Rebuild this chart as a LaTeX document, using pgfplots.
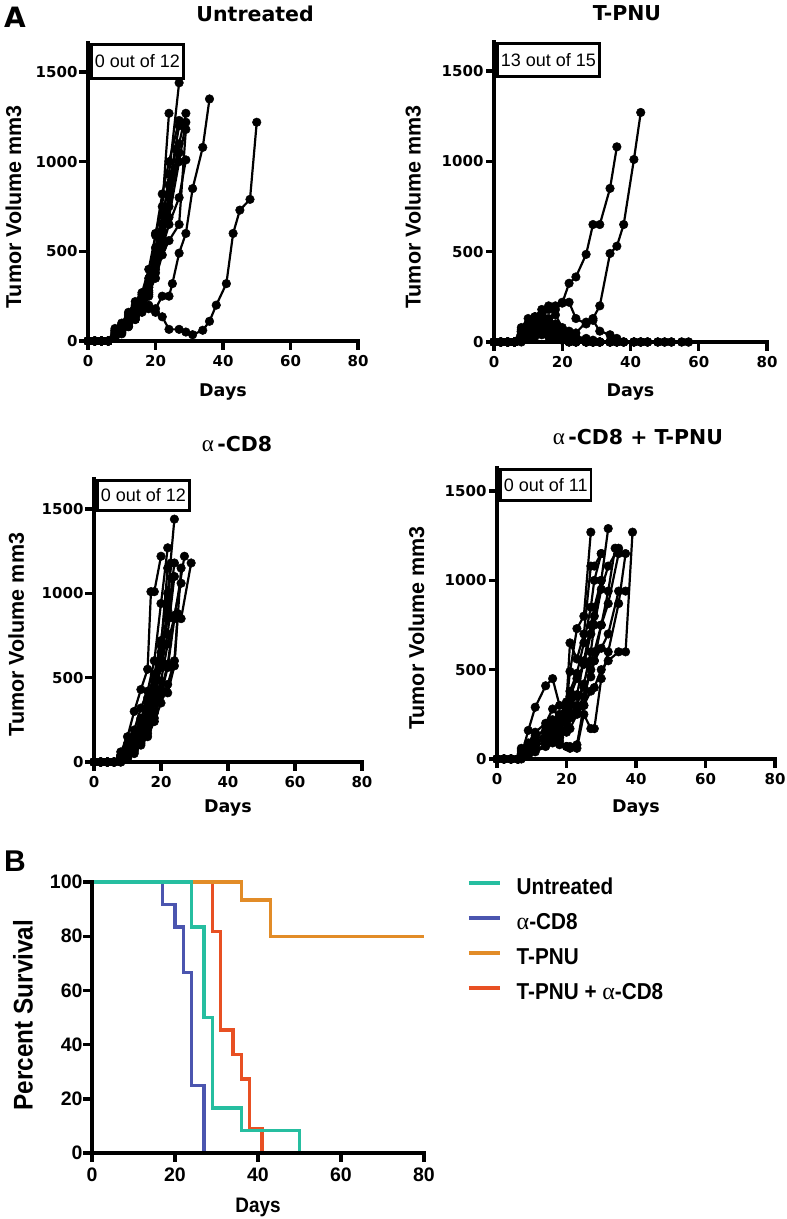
\documentclass[border=0pt]{standalone}
\usepackage{fontspec}
\setmainfont{Liberation Sans}
\newfontfamily\dvb{DejaVu Sans}
\newfontfamily\lsn{Liberation Sans}[FakeStretch=0.9]
\newfontfamily\lserif{Liberation Serif}
\usepackage{pgfplots}
\pgfplotsset{compat=1.18}
\definecolor{cteal}{RGB}{38,190,160}
\definecolor{cblue}{RGB}{75,85,175}
\definecolor{corange}{RGB}{226,140,40}
\definecolor{cred}{RGB}{232,80,35}
\newcommand\tickfontA{\dvb\bfseries\fontsize{15bp}{16bp}\selectfont}
\newcommand\titlefont{\dvb\bfseries\fontsize{20.5bp}{24bp}\selectfont}
\newcommand\daysfont{\dvb\bfseries\fontsize{17.5bp}{20bp}\selectfont}
\newcommand\ylabfont{\bfseries\fontsize{21.5bp}{24bp}\selectfont}
\newcommand\boxfont{\fontsize{18bp}{20bp}\selectfont}
\newcommand\alphaT{{\lserif\mdseries\fontsize{23bp}{24bp}\selectfont α}}
\newcommand\alphaL{{\lserif\mdseries\fontsize{24bp}{24bp}\selectfont α}}
\newcommand\tickfontB{\bfseries\fontsize{19.5bp}{20bp}\selectfont}
\newcommand\legfont{\lsn\bfseries\fontsize{23bp}{24bp}\selectfont}
\tikzset{outbox/.style={draw, line width=2.7bp, anchor=north west, inner xsep=3.5bp, font=\boxfont, text height=13bp, text depth=0bp}}
\newcommand\frameA{%
  \draw[line width=3.4bp, line cap=rect] (rel axis cs:0,1) -- (rel axis cs:0,0) -- (rel axis cs:1,0);
  \pgfplotsinvokeforeach{0,20,40,60,80}{\draw[line width=3.4bp] (axis cs:##1,0) -- ++(0bp,-8.5bp);}
  \pgfplotsinvokeforeach{0,500,1000,1500}{\draw[line width=3.4bp] (axis cs:0,##1) -- ++(-8.5bp,0bp);}
}
\pgfplotsset{
  mouse/.style={black, line width=2.2bp, mark=*, mark size=4.3bp, mark options={solid, fill=black, line width=0.5bp}},
  thickaxes/.style={
    major tick length=6bp, tick align=outside,
  },
  panelA/.style={
    anchor=south west, scale only axis,
    axis x line*=bottom, axis y line*=left,
    thickaxes,
    xmin=0, xmax=80, ymin=0,
    xtick={0,20,40,60,80}, ytick={0,500,1000,1500},
    tick label style={font=\tickfontA},
    xticklabel style={yshift=-5bp},
    yticklabel style={xshift=-1bp},
    /pgf/number format/assume math mode=true,
    /pgf/number format/1000 sep={},
    xlabel={Days}, xlabel style={font=\daysfont, anchor=center},
    ylabel={Tumor Volume mm3}, ylabel style={font=\ylabfont, anchor=center},
    title style={font=\titlefont, anchor=center},
    clip=false,
  },
}
\begin{document}
\begin{tikzpicture}
\path[use as bounding box] (0bp,0bp) rectangle (787bp,-1219bp);
\node[font=\dvb\bfseries\fontsize{28bp}{30bp}\selectfont] at (15bp,-17bp) {A};
\node[font=\bfseries\fontsize{30bp}{30bp}\selectfont] at (15bp,-861bp) {B};

% ---------- Untreated ----------
\begin{axis}[panelA, at={(88bp,-341bp)}, width=270bp, height=298bp, ymax=1662,
  title={Untreated}, title style={at={(axis description cs:0.619,1.079)}},
  xlabel style={at={(axis description cs:0.5,-0.171)}},
  ylabel style={at={(axis description cs:-0.276,0.45)}}]
\frameA
\addplot[mouse] coordinates {(0,0)(2,0)(4,0)(6,0)(8,50)(10,80)(12,120)(14,180)(16,250)(18,300)(20,600)(22,750)(24,1270)};
\addplot[mouse] coordinates {(0,0)(2,0)(4,0)(6,0)(8,30)(10,70)(12,110)(14,160)(16,210)(18,330)(20,480)(22,650)(24,930)(27,1440)};
\addplot[mouse] coordinates {(0,0)(2,0)(4,0)(6,0)(8,60)(10,90)(12,150)(14,200)(16,260)(18,350)(20,520)(22,700)(24,870)(27,1200)};
\addplot[mouse] coordinates {(0,0)(2,0)(4,0)(6,0)(8,40)(10,60)(12,100)(14,140)(16,200)(18,280)(20,420)(22,560)(24,800)(27,1100)(29,1270)};
\addplot[mouse] coordinates {(0,0)(2,0)(4,0)(6,0)(8,70)(10,90)(12,130)(14,170)(16,230)(18,300)(20,440)(22,600)(24,690)(27,1000)(29,1220)};
\addplot[mouse] coordinates {(0,0)(2,0)(4,0)(6,0)(8,20)(10,40)(12,80)(14,120)(16,170)(18,250)(20,380)(22,520)(24,650)(27,800)(29,1010)};
\addplot[mouse] coordinates {(0,0)(2,0)(4,0)(6,0)(8,30)(10,60)(12,100)(14,150)(16,200)(18,270)(20,350)(22,480)(24,560)(27,650)(29,1180)};
\addplot[mouse] coordinates {(0,0)(2,0)(4,0)(6,0)(8,20)(10,50)(12,80)(14,120)(16,160)(18,200)(20,180)(22,250)(24,250)(25,320)(27,490)(29,600)(31,850)(34,1080)(36,1350)};
\addplot[mouse] coordinates {(0,0)(2,0)(4,0)(6,0)(8,40)(10,70)(12,110)(14,140)(16,170)(18,180)(20,160)(22,135)(24,65)(27,65)(29,50)(31,35)(34,60)(36,110)(38,200)(41,320)(43,600)(45,730)(48,790)(50,1220)};
\addplot[mouse] coordinates {(0,0)(2,0)(4,0)(6,0)(8,60)(10,100)(12,160)(14,220)(16,270)(18,400)(20,590)(22,820)(24,1000)(27,1230)};
\addplot[mouse] coordinates {(0,0)(2,0)(4,0)(6,0)(8,30)(10,50)(12,90)(14,130)(16,190)(18,260)(20,400)(22,530)(24,750)(27,1050)};
\addplot[mouse] coordinates {(0,0)(2,0)(4,0)(6,0)(8,50)(10,80)(12,140)(14,190)(16,240)(18,320)(20,460)(22,620)(24,820)(26,1070)};
\node[outbox, xshift=2bp, minimum height=34bp] at (rel axis cs:0,1) {0 out of 12};
\end{axis}

% ---------- T-PNU ----------
\begin{axis}[panelA, at={(494bp,-342bp)}, width=273bp, height=300bp, ymax=1660,
  title={T-PNU}, title style={at={(axis description cs:0.487,1.075)}},
  xlabel style={at={(axis description cs:0.5,-0.167)}},
  ylabel style={at={(axis description cs:-0.297,0.45)}}]
\frameA
\addplot[mouse] coordinates {(0,0)(2,0)(4,0)(6,0)(8,60)(10,100)(12,130)(14,150)(16,200)(18,200)(20,215)(22,325)(24,360)(27,485)(29,650)(31,650)(34,850)(36,1080)};
\addplot[mouse] coordinates {(0,0)(2,0)(4,0)(6,0)(8,40)(10,90)(12,120)(14,140)(16,180)(18,180)(20,220)(22,220)(24,130)(27,100)(29,130)(31,200)(34,490)(36,530)(38,650)(41,1010)(43,1270)};
\addplot[mouse] coordinates {(0,0)(2,0)(4,0)(6,0)(8,80)(10,130)(12,140)(14,160)(16,190)(18,150)(20,80)(22,50)(24,20)(27,10)(29,0)(31,0)(34,0)(36,0)(38,0)(41,0)(43,0)(45,0)(48,0)(50,0)(52,0)(55,0)(57,0)};
\addplot[mouse] coordinates {(0,0)(2,0)(4,0)(6,0)(8,40)(10,100)(12,120)(14,110)(16,100)(18,80)(20,60)(22,40)(24,20)(27,10)(29,0)(31,0)(34,0)(36,0)(38,0)(41,0)(43,0)(45,0)};
\addplot[mouse] coordinates {(0,0)(2,0)(4,0)(6,0)(8,60)(10,70)(12,90)(14,140)(16,130)(18,100)(20,70)(22,60)(24,50)(27,110)(29,120)(31,60)(34,40)(36,20)(38,0)(41,0)(43,0)(45,0)(48,0)(50,0)(52,0)};
\addplot[mouse] coordinates {(0,0)(2,0)(4,0)(6,0)(8,30)(10,50)(12,80)(14,100)(16,120)(18,60)(20,30)(22,10)(24,0)(27,0)(29,0)(31,0)(34,0)};
\addplot[mouse] coordinates {(0,0)(2,0)(4,0)(6,0)(8,70)(10,80)(12,100)(14,90)(16,70)(18,40)(20,20)(22,10)(24,0)(27,0)(29,0)(31,0)(34,0)(36,0)(38,0)(41,0)(43,0)(45,0)(48,0)(50,0)(52,0)(55,0)(57,0)};
\addplot[mouse] coordinates {(0,0)(2,0)(4,0)(6,0)(8,20)(10,40)(12,60)(14,70)(16,50)(18,30)(20,20)(22,0)(24,0)(27,0)(29,0)(31,0)};
\addplot[mouse] coordinates {(0,0)(2,0)(4,0)(6,0)(8,50)(10,60)(12,110)(14,130)(16,80)(18,40)(20,20)(22,10)(24,5)(27,0)(29,0)(31,0)(34,0)(36,0)(38,0)(41,0)(43,0)};
\addplot[mouse] coordinates {(0,0)(2,0)(4,0)(6,0)(8,10)(10,30)(12,40)(14,60)(16,40)(18,20)(20,10)(22,0)(24,0)(27,0)};
\addplot[mouse] coordinates {(0,0)(2,0)(4,0)(6,0)(8,30)(10,70)(12,100)(14,120)(16,110)(18,90)(20,70)(22,50)(24,30)(27,20)(29,10)(31,0)(34,0)(36,0)};
\addplot[mouse] coordinates {(0,0)(2,0)(4,0)(6,0)(8,0)(10,20)(12,30)(14,40)(16,30)(18,20)(20,10)(22,0)(24,0)};
\addplot[mouse] coordinates {(0,0)(2,0)(4,0)(6,0)(8,60)(10,90)(12,140)(14,180)(16,120)(18,70)(20,40)(22,20)(24,10)(27,0)(29,0)(31,0)};
\addplot[mouse] coordinates {(0,0)(2,0)(4,0)(6,0)(8,20)(10,50)(12,70)(14,80)(16,60)(18,60)(20,50)(22,30)(24,20)(27,10)(29,0)(31,0)(34,0)};
\addplot[mouse] coordinates {(0,0)(2,0)(4,0)(6,0)(8,40)(10,60)(12,80)(14,100)(16,90)(18,70)(20,40)(22,20)(24,10)(27,0)(29,0)};
\node[outbox, xshift=2bp, minimum height=33bp] at (rel axis cs:0,1) {13 out of 15};
\end{axis}

% ---------- alpha-CD8 ----------
\begin{axis}[panelA, at={(94bp,-762bp)}, width=268bp, height=283bp, ymax=1678,
  title={\alphaT\,-CD8}, title style={at={(axis description cs:0.534,1.102)}},
  xlabel style={at={(axis description cs:0.5,-0.163)}},
  ylabel style={at={(axis description cs:-0.29,0.45)}}]
\frameA
\addplot[mouse] coordinates {(0,0)(2,0)(4,0)(6,0)(8,60)(10,150)(12,300)(14,430)(16,550)(17,1010)(18,1010)(20,1220)};
\addplot[mouse] coordinates {(0,0)(2,0)(4,0)(6,0)(8,40)(10,110)(12,190)(14,320)(16,420)(18,600)(20,940)(22,1270)};
\addplot[mouse] coordinates {(0,0)(2,0)(4,0)(6,0)(8,30)(10,80)(12,150)(14,250)(16,380)(18,520)(20,720)(22,1000)(24,1440)};
\addplot[mouse] coordinates {(0,0)(2,0)(4,0)(6,0)(8,20)(10,60)(12,120)(14,200)(16,300)(18,420)(20,600)(22,850)(24,1180)};
\addplot[mouse] coordinates {(0,0)(2,0)(4,0)(6,0)(8,10)(10,40)(12,90)(14,150)(16,230)(18,350)(20,480)(22,700)(24,860)(27,1220)};
\addplot[mouse] coordinates {(0,0)(2,0)(4,0)(6,0)(8,0)(10,30)(12,60)(14,110)(16,170)(18,260)(20,400)(22,560)(24,850)(26,850)(29,1180)};
\addplot[mouse] coordinates {(0,0)(2,0)(4,0)(6,0)(8,20)(10,50)(12,110)(14,180)(16,270)(18,380)(20,560)(22,760)(24,1100)};
\addplot[mouse] coordinates {(0,0)(2,0)(4,0)(6,0)(8,10)(10,40)(12,80)(14,130)(16,200)(18,300)(20,430)(22,410)(24,570)(26,1150)};
\addplot[mouse] coordinates {(0,0)(2,0)(4,0)(6,0)(8,40)(10,90)(12,160)(14,260)(16,350)(18,480)(20,690)(22,1150)};
\addplot[mouse] coordinates {(0,0)(2,0)(4,0)(6,0)(8,0)(10,20)(12,50)(14,100)(16,150)(18,240)(20,350)(22,460)(24,600)(25,880)};
\addplot[mouse] coordinates {(0,0)(2,0)(4,0)(6,0)(8,30)(10,70)(12,140)(14,220)(16,320)(18,450)(20,650)(22,900)(23,1180)};
\addplot[mouse] coordinates {(0,0)(2,0)(4,0)(6,0)(8,10)(10,30)(12,70)(14,120)(16,190)(18,290)(20,420)(22,580)(24,870)(26,1060)};
\node[outbox, xshift=2bp, minimum height=30bp] at (rel axis cs:0,1) {0 out of 12};
\end{axis}

% ---------- alpha-CD8 + T-PNU ----------
\begin{axis}[panelA, at={(497bp,-759bp)}, width=278bp, height=291bp, ymax=1629,
  title={\alphaT\,-CD8 + T-PNU}, title style={at={(axis description cs:0.507,1.086)}},
  xlabel style={at={(axis description cs:0.5,-0.168)}},
  ylabel style={at={(axis description cs:-0.29,0.45)}}]
\frameA
\addplot[mouse] coordinates {(0,0)(2,0)(4,0)(6,0)(7,20)(9,160)(11,290)(14,410)(16,450)(18,300)(20,310)(21,490)(23,730)(25,800)(27,1270)};
\addplot[mouse] coordinates {(0,0)(2,0)(4,0)(6,0)(7,60)(9,90)(11,150)(14,200)(16,280)(18,230)(20,320)(21,650)(23,560)(25,700)(27,1080)(28,1080)(30,1150)};
\addplot[mouse] coordinates {(0,0)(2,0)(4,0)(6,0)(7,50)(9,70)(11,110)(14,180)(16,220)(18,150)(20,250)(21,320)(23,360)(25,550)(27,750)(28,850)(30,1000)(32,1290)};
\addplot[mouse] coordinates {(0,0)(2,0)(4,0)(6,0)(7,30)(9,60)(11,80)(14,120)(16,150)(18,100)(20,70)(21,70)(23,80)(25,300)(27,550)(28,600)(30,750)(32,940)(34,1180)};
\addplot[mouse] coordinates {(0,0)(2,0)(4,0)(6,0)(7,20)(9,40)(11,70)(14,100)(16,130)(18,80)(20,70)(21,60)(23,60)(25,250)(27,170)(28,170)(30,450)(32,600)(35,870)(37,1150)};
\addplot[mouse] coordinates {(0,0)(2,0)(4,0)(6,0)(7,10)(9,30)(11,50)(14,80)(16,100)(18,180)(20,160)(21,170)(23,250)(25,300)(27,380)(28,400)(30,500)(32,550)(35,600)(37,600)(39,1270)};
\addplot[mouse] coordinates {(0,0)(2,0)(4,0)(6,0)(7,40)(9,80)(11,130)(14,160)(16,200)(18,120)(20,150)(21,230)(23,300)(25,420)(27,600)(28,750)(30,950)(32,1080)(35,1180)};
\addplot[mouse] coordinates {(0,0)(2,0)(4,0)(6,0)(7,0)(9,20)(11,40)(14,70)(16,90)(18,120)(20,200)(21,260)(23,280)(25,350)(27,500)(28,550)(30,620)(32,700)(35,940)(37,940)};
\addplot[mouse] coordinates {(0,0)(2,0)(4,0)(6,0)(7,30)(9,50)(11,100)(14,150)(16,180)(18,250)(20,300)(21,380)(23,480)(25,650)(27,850)(28,1000)(30,1150)};
\addplot[mouse] coordinates {(0,0)(2,0)(4,0)(6,0)(7,10)(9,30)(11,60)(14,110)(16,140)(18,200)(20,230)(21,300)(23,350)(25,400)(27,460)(28,550)(30,750)(32,870)(35,1150)};
\addplot[mouse] coordinates {(0,0)(2,0)(4,0)(6,0)(7,20)(9,50)(11,90)(14,130)(16,170)(18,240)(20,280)(21,350)(23,450)(25,530)(27,700)(28,800)(30,1000)};
\node[outbox, xshift=2bp, minimum height=31bp] at (rel axis cs:0,1) {0 out of 11};
\end{axis}

% ---------- Survival ----------
\begin{axis}[anchor=south west, at={(92bp,-1153bp)}, width=332bp, height=271bp, scale only axis,
  axis x line*=bottom, axis y line*=left,
  thickaxes,
  xmin=0, xmax=80, ymin=0, ymax=100,
  xtick={0,20,40,60,80}, ytick={0,20,40,60,80,100},
  tick label style={font=\tickfontB},
  xticklabel style={yshift=-5bp},
  /pgf/number format/assume math mode=true,
  xlabel={Days}, xlabel style={font=\lsn\bfseries\fontsize{21bp}{22bp}\selectfont, anchor=center, at={(axis description cs:0.5,-0.2)}},
  ylabel={Percent Survival}, ylabel style={font=\lsn\bfseries\fontsize{27bp}{28bp}\selectfont, anchor=center, at={(axis description cs:-0.208,0.509)}},
  clip=false,
  legend style={at={(axis description cs:1.1295,1.015)}, anchor=north west, draw=none, fill=none, inner sep=0bp,
    font=\legfont, row sep=15bp, nodes={inner sep=0bp, text height=16bp, text depth=4bp},
    /tikz/every odd column/.append style={column sep=15bp}},
  legend cell align=left,
  legend image code/.code={\draw[#1, line width=3.5bp] (0bp,5bp) -- (31bp,5bp);},
  ]
\addplot[const plot, cblue, line width=3.4bp, forget plot] coordinates {(0,100)(17,91.67)(20,83.33)(22,66.67)(24,25)(27,0)};
\addplot[const plot, cred, line width=3.4bp, forget plot] coordinates {(0,100)(29,81.82)(31,45.45)(34,36.36)(36,27.27)(38,9.09)(41,0)};
\addplot[const plot, corange, line width=3.4bp, forget plot] coordinates {(0,100)(36,93.33)(43,80)(80,80)};
\addplot[const plot, cteal, line width=3.4bp, forget plot] coordinates {(0,100)(24,83.33)(27,50)(29,16.67)(36,8.33)(50,0)};
\draw[line width=3.4bp, line cap=rect] (rel axis cs:0,1) -- (rel axis cs:0,0) -- (rel axis cs:1,0);
\pgfplotsinvokeforeach{0,20,40,60,80}{\draw[line width=3.4bp] (axis cs:#1,0) -- ++(0bp,-8.5bp);}
\pgfplotsinvokeforeach{0,20,40,60,80,100}{\draw[line width=3.4bp] (axis cs:0,#1) -- ++(-8.5bp,0bp);}
\addlegendimage{cteal}\addlegendentry{Untreated}
\addlegendimage{cblue}\addlegendentry{\alphaL-CD8}
\addlegendimage{corange}\addlegendentry{T-PNU}
\addlegendimage{cred}\addlegendentry{T-PNU + \alphaL-CD8}
\end{axis}
\end{tikzpicture}
\end{document}
